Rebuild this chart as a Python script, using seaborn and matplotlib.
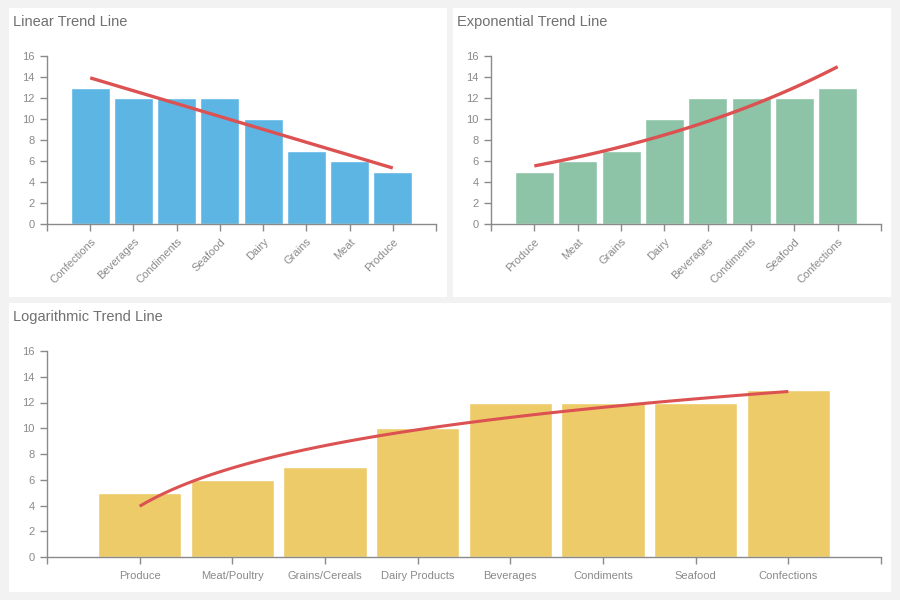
import matplotlib
matplotlib.use("Agg")
import matplotlib.pyplot as plt
from matplotlib.patches import Rectangle
import numpy as np
import pandas as pd
import seaborn as sns

# data
linear_cats = ["Confections", "Beverages", "Condiments", "Seafood", "Dairy", "Grains", "Meat", "Produce"]
linear_vals = [13, 12, 12, 12, 10, 7, 6, 5]

exp_cats = ["Produce", "Meat", "Grains", "Dairy", "Beverages", "Condiments", "Seafood", "Confections"]
exp_vals = [5, 6, 7, 10, 12, 12, 12, 13]

log_cats = ["Produce", "Meat/Poultry", "Grains/Cereals", "Dairy Products", "Beverages",
            "Condiments", "Seafood", "Confections"]
log_vals = [5, 6, 7, 10, 12, 12, 12, 13]

y_ticks = [0, 2, 4, 6, 8, 10, 12, 14, 16]

sns.set_style("white")
plt.rcParams["font.family"] = ["Liberation Sans", "DejaVu Sans"]

W, H = 900, 600
fig = plt.figure(figsize=(9, 6), dpi=100, facecolor="#f2f2f2")


def px_rect(l, t, r, b):
    return [l / W, 1 - b / H, (r - l) / W, (b - t) / H]


# white panels (behind the axes)
for (l, t, r, b) in [(9, 8, 447, 297), (453, 8, 891, 297), (9, 303, 891, 592)]:
    x0, y0, w, h = px_rect(l, t, r, b)
    fig.patches.append(Rectangle((x0, y0), w, h, transform=fig.transFigure,
                                 facecolor="white", edgecolor="none", zorder=-5))

AX = "#8a8a8a"
TXT = "#8a8a8a"
RED = "#dc5252"


def style_axes(ax, rot):
    ax.set_xlim(-1, 8)
    ax.set_ylim(0, 16)
    ax.set_yticks(y_ticks)
    ax.set_xticks([-1, 8], minor=True)
    sns.despine(ax=ax)
    for s in ["left", "bottom"]:
        ax.spines[s].set_color(AX)
        ax.spines[s].set_linewidth(1)
    ax.tick_params(axis="both", which="both", direction="out", length=5, width=1,
                   bottom=True, left=True, color=AX, labelcolor=TXT, labelsize=8, pad=4)
    ax.set_xlabel("")
    ax.set_ylabel("")
    ax.patch.set_alpha(0)
    if rot:
        for lab in ax.get_xticklabels():
            lab.set_rotation(45)
            lab.set_ha("right")
            lab.set_va("top")
            lab.set_rotation_mode("anchor")


# Linear
ax1 = fig.add_axes(px_rect(47, 56, 436, 224))
sns.barplot(x=linear_cats, y=linear_vals, color="#5db5e4", saturation=1, width=0.9, ax=ax1)
x = np.arange(len(linear_vals))
k, c = np.polyfit(x, linear_vals, 1)
ax1.plot(x, k * x + c, color=RED, lw=2.4, solid_capstyle="butt")
style_axes(ax1, True)
fig.text(13 / W, 1 - 22 / H, "Linear Trend Line", fontsize=10.5, color="#707070", va="center")

# Exponential
ax2 = fig.add_axes(px_rect(491, 56, 881, 224))
sns.barplot(x=exp_cats, y=exp_vals, color="#8dc3a7", saturation=1, width=0.9, ax=ax2)
xs = np.linspace(0, 7, 100)
b, a = np.polyfit(x, np.log(exp_vals), 1)
ax2.plot(xs, np.exp(a + b * xs), color=RED, lw=2.4, solid_capstyle="butt")
style_axes(ax2, True)
fig.text(457 / W, 1 - 22 / H, "Exponential Trend Line", fontsize=10.5, color="#707070", va="center")

# Logarithmic
ax3 = fig.add_axes(px_rect(47, 351, 881, 557))
sns.barplot(x=log_cats, y=log_vals, color="#eecb69", saturation=1, width=0.9, ax=ax3)
bl, al = np.polyfit(np.log(x + 1), log_vals, 1)
ax3.plot(xs, al + bl * np.log(xs + 1), color=RED, lw=2.2, solid_capstyle="butt")
style_axes(ax3, False)
ax3.tick_params(axis="x", pad=5)
fig.text(13 / W, 1 - 317 / H, "Logarithmic Trend Line", fontsize=10.5, color="#707070", va="center")

fig.savefig("out.png", dpi=100, facecolor=fig.get_facecolor())
